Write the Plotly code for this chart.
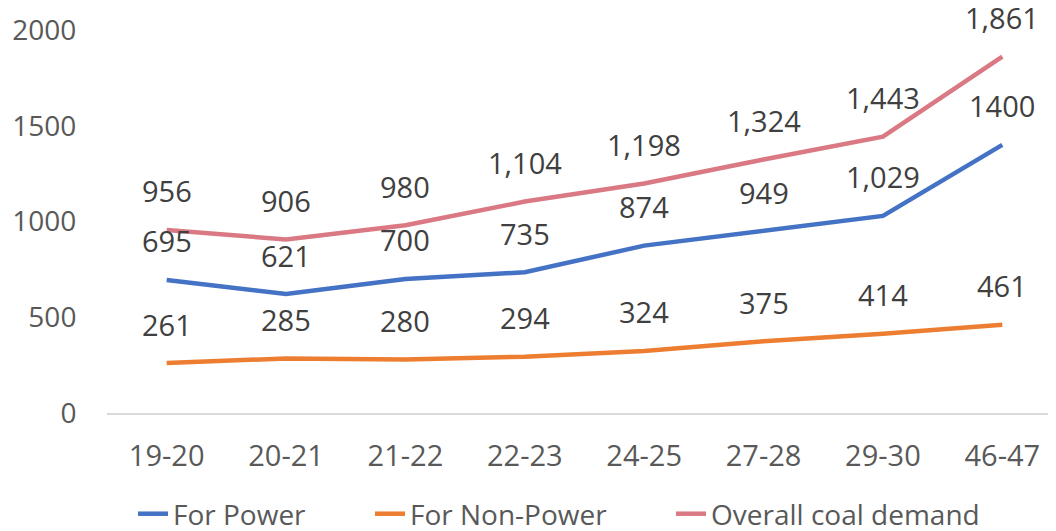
import plotly.graph_objects as go

categories = ["19-20", "20-21", "21-22", "22-23", "24-25", "27-28", "29-30", "46-47"]
for_power = [695, 621, 700, 735, 874, 949, 1029, 1400]
for_non_power = [261, 285, 280, 294, 324, 375, 414, 461]
overall = [956, 906, 980, 1104, 1198, 1324, 1443, 1861]
y_ticks = [0, 500, 1000, 1500, 2000]

power_text = [f"{v:,}" for v in for_power[:-1]] + [str(for_power[-1])]
non_power_text = [f"{v:,}" for v in for_non_power]
overall_text = [f"{v:,}" for v in overall]

FONT = "Open Sans"
GRAY = "#595959"
LABEL = "#404040"

series = [
    ("For Power", for_power, power_text, "#4472C4", "legend", 125),
    ("For Non-Power", for_non_power, non_power_text, "#ED7D31", "legend2", 362),
    ("Overall coal demand", overall, overall_text, "#DA7983", "legend3", 663),
]

fig = go.Figure()
annotations = []
legends = {}
for name, vals, texts, color, leg, lx in series:
    fig.add_trace(go.Scatter(
        x=list(range(len(categories))), y=vals, name=name, mode="lines",
        line=dict(color=color, width=4.5), legend=leg, cliponaxis=False,
    ))
    for i, (v, t) in enumerate(zip(vals, texts)):
        annotations.append(dict(
            x=i, y=v, xref="x", yref="y", text=t, showarrow=False,
            yanchor="middle", xanchor="center", yshift=39,
            font=dict(family=FONT, size=29, color=LABEL),
        ))
    legends[leg] = dict(
        xref="container", yref="container",
        x=lx / 1056, xanchor="left", y=(531 - 506) / 531, yanchor="middle",
        font=dict(family=FONT, size=28, color=GRAY),
        bgcolor="rgba(0,0,0,0)", borderwidth=0,
    )

fig.update_layout(
    width=1056, height=531,
    margin=dict(l=99, r=2, t=22, b=126, autoexpand=False),
    paper_bgcolor="white", plot_bgcolor="white",
    showlegend=True,
    annotations=annotations,
    xaxis=dict(
        tickmode="array", tickvals=list(range(len(categories))), ticktext=categories,
        range=[-0.5, 7.5], showgrid=False, zeroline=False, automargin=False,
        showline=True, linecolor="#D9D9D9", linewidth=1.5,
        ticks="outside", ticklen=16, tickcolor="rgba(0,0,0,0)",
        tickfont=dict(family=FONT, size=29, color=GRAY),
    ),
    yaxis=dict(
        range=[0, 2000], tickvals=y_ticks, tickformat="d", automargin=False,
        showgrid=False, zeroline=False, showline=False,
        ticks="outside", ticklen=24, tickcolor="rgba(0,0,0,0)",
        tickfont=dict(family=FONT, size=28, color=GRAY),
    ),
    **legends,
)

fig.write_html("out.html")
